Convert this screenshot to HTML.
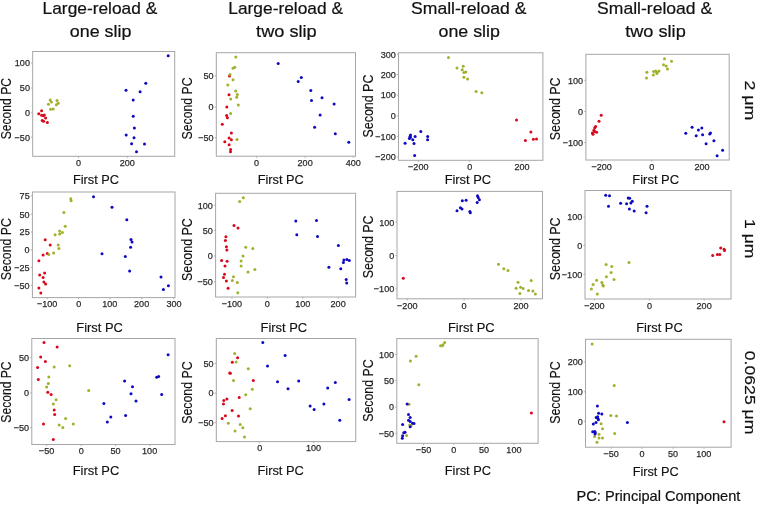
<!DOCTYPE html>
<html><head><meta charset="utf-8"><title>PCA scatter plots</title>
<style>html,body{margin:0;padding:0;background:#fff;}body{width:758px;height:505px;overflow:hidden;font-family:"Liberation Sans",sans-serif;}svg{display:block;}</style>
</head><body>
<svg width="758" height="505" viewBox="0 0 758 505" font-family="Liberation Sans, sans-serif" style="filter:blur(0.3px)">
<rect x="32.7" y="51.5" width="142" height="104.8" fill="none" stroke="#a6a6a6" stroke-width="1.0"/>
<text x="14.83" y="66.25" font-size="9.6" fill="#2a2a2a" stroke="#2a2a2a" stroke-width="0.25" textLength="15.12" lengthAdjust="spacingAndGlyphs">100</text>
<text x="19.87" y="91.35" font-size="9.6" fill="#2a2a2a" stroke="#2a2a2a" stroke-width="0.25" textLength="10.08" lengthAdjust="spacingAndGlyphs">50</text>
<text x="24.91" y="116.05" font-size="9.6" fill="#2a2a2a" stroke="#2a2a2a" stroke-width="0.25" textLength="5.04" lengthAdjust="spacingAndGlyphs">0</text>
<text x="14.58" y="140.55" font-size="9.6" fill="#2a2a2a" stroke="#2a2a2a" stroke-width="0.25" textLength="15.37" lengthAdjust="spacingAndGlyphs">−50</text>
<text x="75.98" y="166.25" font-size="9.6" fill="#2a2a2a" stroke="#2a2a2a" stroke-width="0.25" textLength="5.04" lengthAdjust="spacingAndGlyphs">0</text>
<text x="119.69" y="166.25" font-size="9.6" fill="#2a2a2a" stroke="#2a2a2a" stroke-width="0.25" textLength="15.12" lengthAdjust="spacingAndGlyphs">200</text>
<path d="M31.1 62.9H32.7M31.1 88H32.7M31.1 112.7H32.7M31.1 137.2H32.7M78.5 156.3V157.9M127.3 156.3V157.9" stroke="#a6a6a6" stroke-width="0.9" fill="none"/>
<text x="72.95" y="183.7" font-size="13.6" fill="#111" stroke="#111" stroke-width="0.15" textLength="46.13" lengthAdjust="spacingAndGlyphs">First PC</text>
<text transform="translate(11.1,139.25) rotate(-90)" font-size="13.9" fill="#111" stroke="#111" stroke-width="0.15" textLength="61.21" lengthAdjust="spacingAndGlyphs">Second PC</text>
<g fill="#d8081a"><circle cx="41.6" cy="110.75" r="1.5"/><circle cx="38.8" cy="113.7" r="1.5"/><circle cx="41.6" cy="115.2" r="1.5"/><circle cx="44.3" cy="114.9" r="1.5"/><circle cx="43.4" cy="115.8" r="1.5"/><circle cx="45.6" cy="117.9" r="1.5"/><circle cx="42.2" cy="120.6" r="1.5"/><circle cx="43.6" cy="121.2" r="1.5"/><circle cx="47.4" cy="122.6" r="1.5"/></g>
<g fill="#a2b02c"><circle cx="50.2" cy="100.05" r="1.5"/><circle cx="51.4" cy="102.1" r="1.5"/><circle cx="48.4" cy="104.2" r="1.5"/><circle cx="57" cy="100.6" r="1.5"/><circle cx="58.2" cy="103.3" r="1.5"/><circle cx="56.4" cy="104.8" r="1.5"/><circle cx="50.5" cy="109.3" r="1.5"/><circle cx="53.2" cy="109" r="1.5"/></g>
<g fill="#0e08c0"><circle cx="168.2" cy="55.8" r="1.5"/><circle cx="145.8" cy="83.3" r="1.5"/><circle cx="126" cy="90.2" r="1.5"/><circle cx="140.1" cy="91.8" r="1.5"/><circle cx="133.2" cy="99.9" r="1.5"/><circle cx="133.2" cy="116.3" r="1.5"/><circle cx="134.4" cy="128" r="1.5"/><circle cx="126.2" cy="135.1" r="1.5"/><circle cx="134" cy="137.8" r="1.5"/><circle cx="131.6" cy="143.8" r="1.5"/><circle cx="144.5" cy="144.1" r="1.5"/><circle cx="136.5" cy="151.8" r="1.5"/></g>
<rect x="216.3" y="52.7" width="139.2" height="103.5" fill="none" stroke="#a6a6a6" stroke-width="1.0"/>
<text x="203.47" y="79.15" font-size="9.6" fill="#2a2a2a" stroke="#2a2a2a" stroke-width="0.25" textLength="10.08" lengthAdjust="spacingAndGlyphs">50</text>
<text x="208.51" y="110.35" font-size="9.6" fill="#2a2a2a" stroke="#2a2a2a" stroke-width="0.25" textLength="5.04" lengthAdjust="spacingAndGlyphs">0</text>
<text x="198.18" y="141.15" font-size="9.6" fill="#2a2a2a" stroke="#2a2a2a" stroke-width="0.25" textLength="15.37" lengthAdjust="spacingAndGlyphs">−50</text>
<text x="254.08" y="165.95" font-size="9.6" fill="#2a2a2a" stroke="#2a2a2a" stroke-width="0.25" textLength="5.04" lengthAdjust="spacingAndGlyphs">0</text>
<text x="297.59" y="165.95" font-size="9.6" fill="#2a2a2a" stroke="#2a2a2a" stroke-width="0.25" textLength="15.12" lengthAdjust="spacingAndGlyphs">200</text>
<text x="345.71" y="165.95" font-size="9.6" fill="#2a2a2a" stroke="#2a2a2a" stroke-width="0.25" textLength="15.12" lengthAdjust="spacingAndGlyphs">400</text>
<path d="M214.7 75.8H216.3M214.7 107H216.3M214.7 137.8H216.3M256.6 156.2V157.8M305.2 156.2V157.8M353.2 156.2V157.8" stroke="#a6a6a6" stroke-width="0.9" fill="none"/>
<text x="257.65" y="184" font-size="13.6" fill="#111" stroke="#111" stroke-width="0.15" textLength="46.13" lengthAdjust="spacingAndGlyphs">First PC</text>
<text transform="translate(192,139.46) rotate(-90)" font-size="13.9" fill="#111" stroke="#111" stroke-width="0.15" textLength="62.02" lengthAdjust="spacingAndGlyphs">Second PC</text>
<g fill="#d8081a"><circle cx="229.5" cy="75.9" r="1.5"/><circle cx="229" cy="94.7" r="1.5"/><circle cx="226.8" cy="107.1" r="1.5"/><circle cx="226.6" cy="115.6" r="1.5"/><circle cx="227.4" cy="117.8" r="1.5"/><circle cx="222.3" cy="124.2" r="1.5"/><circle cx="231.4" cy="132.9" r="1.5"/><circle cx="229.1" cy="138" r="1.5"/><circle cx="231.4" cy="139.7" r="1.5"/><circle cx="224.8" cy="141.7" r="1.5"/><circle cx="229.1" cy="144.8" r="1.5"/><circle cx="230.6" cy="149.6" r="1.5"/><circle cx="230.5" cy="151.7" r="1.5"/></g>
<g fill="#a2b02c"><circle cx="235.8" cy="56.9" r="1.5"/><circle cx="233" cy="68.3" r="1.5"/><circle cx="234.7" cy="67.2" r="1.5"/><circle cx="230" cy="74.6" r="1.5"/><circle cx="233" cy="79.8" r="1.5"/><circle cx="227.8" cy="85.1" r="1.5"/><circle cx="235.7" cy="91" r="1.5"/><circle cx="237.4" cy="94.5" r="1.5"/><circle cx="236.7" cy="97.3" r="1.5"/><circle cx="230.7" cy="99" r="1.5"/><circle cx="238.3" cy="105.1" r="1.5"/><circle cx="230.6" cy="113.5" r="1.5"/><circle cx="237" cy="139.5" r="1.5"/></g>
<g fill="#0e08c0"><circle cx="278.2" cy="63.5" r="1.5"/><circle cx="301.3" cy="77.6" r="1.5"/><circle cx="298.2" cy="81.4" r="1.5"/><circle cx="310.8" cy="90.4" r="1.5"/><circle cx="311.5" cy="100.4" r="1.5"/><circle cx="322" cy="97.8" r="1.5"/><circle cx="334.1" cy="104" r="1.5"/><circle cx="320.1" cy="114.9" r="1.5"/><circle cx="314.6" cy="127.3" r="1.5"/><circle cx="335.3" cy="133.7" r="1.5"/><circle cx="348.8" cy="142.2" r="1.5"/></g>
<rect x="398.5" y="52.8" width="144.4" height="107.5" fill="none" stroke="#a6a6a6" stroke-width="1.0"/>
<text x="380.63" y="57.55" font-size="9.6" fill="#2a2a2a" stroke="#2a2a2a" stroke-width="0.25" textLength="15.12" lengthAdjust="spacingAndGlyphs">300</text>
<text x="380.63" y="77.85" font-size="9.6" fill="#2a2a2a" stroke="#2a2a2a" stroke-width="0.25" textLength="15.12" lengthAdjust="spacingAndGlyphs">200</text>
<text x="380.63" y="98.45" font-size="9.6" fill="#2a2a2a" stroke="#2a2a2a" stroke-width="0.25" textLength="15.12" lengthAdjust="spacingAndGlyphs">100</text>
<text x="390.71" y="119.25" font-size="9.6" fill="#2a2a2a" stroke="#2a2a2a" stroke-width="0.25" textLength="5.04" lengthAdjust="spacingAndGlyphs">0</text>
<text x="375.34" y="139.75" font-size="9.6" fill="#2a2a2a" stroke="#2a2a2a" stroke-width="0.25" textLength="20.41" lengthAdjust="spacingAndGlyphs">−100</text>
<text x="375.34" y="160.35" font-size="9.6" fill="#2a2a2a" stroke="#2a2a2a" stroke-width="0.25" textLength="20.41" lengthAdjust="spacingAndGlyphs">−200</text>
<text x="408.05" y="169.75" font-size="9.6" fill="#2a2a2a" stroke="#2a2a2a" stroke-width="0.25" textLength="20.41" lengthAdjust="spacingAndGlyphs">−200</text>
<text x="467.28" y="169.75" font-size="9.6" fill="#2a2a2a" stroke="#2a2a2a" stroke-width="0.25" textLength="5.04" lengthAdjust="spacingAndGlyphs">0</text>
<text x="514.39" y="169.75" font-size="9.6" fill="#2a2a2a" stroke="#2a2a2a" stroke-width="0.25" textLength="15.12" lengthAdjust="spacingAndGlyphs">200</text>
<path d="M396.9 54.2H398.5M396.9 74.5H398.5M396.9 95.1H398.5M396.9 115.9H398.5M396.9 136.4H398.5M396.9 157H398.5M418.3 160.3V161.9M469.8 160.3V161.9M522 160.3V161.9" stroke="#a6a6a6" stroke-width="0.9" fill="none"/>
<text x="444.64" y="184.4" font-size="13.6" fill="#111" stroke="#111" stroke-width="0.15" textLength="46.45" lengthAdjust="spacingAndGlyphs">First PC</text>
<text transform="translate(372.9,137.46) rotate(-90)" font-size="13.9" fill="#111" stroke="#111" stroke-width="0.15" textLength="62.84" lengthAdjust="spacingAndGlyphs">Second PC</text>
<g fill="#d8081a"><circle cx="516.5" cy="120.1" r="1.5"/><circle cx="530.9" cy="132.1" r="1.5"/><circle cx="525.4" cy="140.4" r="1.5"/><circle cx="533.4" cy="139.3" r="1.5"/><circle cx="536.5" cy="139.1" r="1.5"/></g>
<g fill="#a2b02c"><circle cx="448.5" cy="57.6" r="1.5"/><circle cx="457" cy="67.9" r="1.5"/><circle cx="463.2" cy="66.2" r="1.5"/><circle cx="462.2" cy="69.7" r="1.5"/><circle cx="463.9" cy="72.6" r="1.5"/><circle cx="465.9" cy="72.1" r="1.5"/><circle cx="463.9" cy="77.3" r="1.5"/><circle cx="467.6" cy="79.1" r="1.5"/><circle cx="476.1" cy="91.4" r="1.5"/><circle cx="481.8" cy="92.8" r="1.5"/></g>
<g fill="#0e08c0"><circle cx="420.8" cy="131.6" r="1.5"/><circle cx="410.5" cy="135" r="1.5"/><circle cx="410" cy="136.4" r="1.5"/><circle cx="409.4" cy="138.5" r="1.5"/><circle cx="410.4" cy="137.5" r="1.5"/><circle cx="415.1" cy="136.6" r="1.5"/><circle cx="412.8" cy="139.7" r="1.5"/><circle cx="427.7" cy="136.4" r="1.5"/><circle cx="427.6" cy="139.7" r="1.5"/><circle cx="405.1" cy="143.2" r="1.5"/><circle cx="414" cy="143.6" r="1.5"/><circle cx="414.6" cy="155.4" r="1.5"/></g>
<rect x="585.9" y="54.3" width="143.3" height="105.7" fill="none" stroke="#a6a6a6" stroke-width="1.0"/>
<text x="568.03" y="83.65" font-size="9.6" fill="#2a2a2a" stroke="#2a2a2a" stroke-width="0.25" textLength="15.12" lengthAdjust="spacingAndGlyphs">100</text>
<text x="578.11" y="114.85" font-size="9.6" fill="#2a2a2a" stroke="#2a2a2a" stroke-width="0.25" textLength="5.04" lengthAdjust="spacingAndGlyphs">0</text>
<text x="562.74" y="145.85" font-size="9.6" fill="#2a2a2a" stroke="#2a2a2a" stroke-width="0.25" textLength="20.41" lengthAdjust="spacingAndGlyphs">−100</text>
<text x="591.45" y="170.25" font-size="9.6" fill="#2a2a2a" stroke="#2a2a2a" stroke-width="0.25" textLength="20.41" lengthAdjust="spacingAndGlyphs">−200</text>
<text x="649.28" y="170.25" font-size="9.6" fill="#2a2a2a" stroke="#2a2a2a" stroke-width="0.25" textLength="5.04" lengthAdjust="spacingAndGlyphs">0</text>
<text x="694.39" y="170.25" font-size="9.6" fill="#2a2a2a" stroke="#2a2a2a" stroke-width="0.25" textLength="15.12" lengthAdjust="spacingAndGlyphs">200</text>
<path d="M584.3 80.3H585.9M584.3 111.5H585.9M584.3 142.5H585.9M601.7 160V161.6M651.8 160V161.6M702 160V161.6" stroke="#a6a6a6" stroke-width="0.9" fill="none"/>
<text x="632.34" y="184.1" font-size="13.6" fill="#111" stroke="#111" stroke-width="0.15" textLength="46.76" lengthAdjust="spacingAndGlyphs">First PC</text>
<text transform="translate(559.8,140.26) rotate(-90)" font-size="13.9" fill="#111" stroke="#111" stroke-width="0.15" textLength="62.84" lengthAdjust="spacingAndGlyphs">Second PC</text>
<g fill="#d8081a"><circle cx="601.2" cy="115.2" r="1.5"/><circle cx="599" cy="121.3" r="1.5"/><circle cx="595.6" cy="126.6" r="1.5"/><circle cx="594.8" cy="127.8" r="1.5"/><circle cx="593.9" cy="130.2" r="1.5"/><circle cx="596.6" cy="132.3" r="1.5"/><circle cx="592.4" cy="132.9" r="1.5"/><circle cx="593" cy="134.3" r="1.5"/><circle cx="594.5" cy="131.4" r="1.5"/></g>
<g fill="#a2b02c"><circle cx="664.5" cy="58.7" r="1.5"/><circle cx="671.5" cy="61.2" r="1.5"/><circle cx="663.5" cy="64.7" r="1.5"/><circle cx="666.1" cy="66.1" r="1.5"/><circle cx="667.5" cy="69" r="1.5"/><circle cx="646.9" cy="72.3" r="1.5"/><circle cx="646.5" cy="78.1" r="1.5"/><circle cx="653.7" cy="71.6" r="1.5"/><circle cx="655.7" cy="71" r="1.5"/><circle cx="659" cy="71" r="1.5"/><circle cx="657" cy="72.3" r="1.5"/><circle cx="653.4" cy="74.9" r="1.5"/><circle cx="656.9" cy="73.6" r="1.5"/></g>
<g fill="#0e08c0"><circle cx="685.8" cy="133.3" r="1.5"/><circle cx="692.1" cy="127.3" r="1.5"/><circle cx="698.4" cy="130.1" r="1.5"/><circle cx="701.8" cy="127.9" r="1.5"/><circle cx="696.2" cy="135.8" r="1.5"/><circle cx="702.6" cy="134.7" r="1.5"/><circle cx="709.7" cy="133.9" r="1.5"/><circle cx="710.5" cy="133.1" r="1.5"/><circle cx="713.9" cy="140.8" r="1.5"/><circle cx="706.1" cy="143.8" r="1.5"/><circle cx="722.6" cy="150.3" r="1.5"/><circle cx="717.1" cy="155.7" r="1.5"/></g>
<rect x="32.4" y="192" width="142.6" height="105.6" fill="none" stroke="#a6a6a6" stroke-width="1.0"/>
<text x="19.6" y="199.35" font-size="9.6" fill="#2a2a2a" stroke="#2a2a2a" stroke-width="0.25" textLength="10.08" lengthAdjust="spacingAndGlyphs">75</text>
<text x="19.57" y="217.55" font-size="9.6" fill="#2a2a2a" stroke="#2a2a2a" stroke-width="0.25" textLength="10.08" lengthAdjust="spacingAndGlyphs">50</text>
<text x="19.6" y="235.35" font-size="9.6" fill="#2a2a2a" stroke="#2a2a2a" stroke-width="0.25" textLength="10.08" lengthAdjust="spacingAndGlyphs">25</text>
<text x="24.61" y="253.15" font-size="9.6" fill="#2a2a2a" stroke="#2a2a2a" stroke-width="0.25" textLength="5.04" lengthAdjust="spacingAndGlyphs">0</text>
<text x="14.31" y="270.75" font-size="9.6" fill="#2a2a2a" stroke="#2a2a2a" stroke-width="0.25" textLength="15.37" lengthAdjust="spacingAndGlyphs">−25</text>
<text x="14.28" y="288.65" font-size="9.6" fill="#2a2a2a" stroke="#2a2a2a" stroke-width="0.25" textLength="15.37" lengthAdjust="spacingAndGlyphs">−50</text>
<text x="36.95" y="307.45" font-size="9.6" fill="#2a2a2a" stroke="#2a2a2a" stroke-width="0.25" textLength="20.41" lengthAdjust="spacingAndGlyphs">−100</text>
<text x="76.18" y="307.45" font-size="9.6" fill="#2a2a2a" stroke="#2a2a2a" stroke-width="0.25" textLength="5.04" lengthAdjust="spacingAndGlyphs">0</text>
<text x="102.27" y="307.45" font-size="9.6" fill="#2a2a2a" stroke="#2a2a2a" stroke-width="0.25" textLength="15.12" lengthAdjust="spacingAndGlyphs">100</text>
<text x="134.09" y="307.45" font-size="9.6" fill="#2a2a2a" stroke="#2a2a2a" stroke-width="0.25" textLength="15.12" lengthAdjust="spacingAndGlyphs">200</text>
<text x="166.44" y="307.45" font-size="9.6" fill="#2a2a2a" stroke="#2a2a2a" stroke-width="0.25" textLength="15.12" lengthAdjust="spacingAndGlyphs">300</text>
<path d="M30.8 196H32.4M30.8 214.2H32.4M30.8 232H32.4M30.8 249.8H32.4M30.8 267.4H32.4M30.8 285.3H32.4M47.2 297.6V299.2M78.7 297.6V299.2M110 297.6V299.2M141.7 297.6V299.2M174 297.6V299.2" stroke="#a6a6a6" stroke-width="0.9" fill="none"/>
<text x="76.34" y="331.9" font-size="13.6" fill="#111" stroke="#111" stroke-width="0.15" textLength="46.55" lengthAdjust="spacingAndGlyphs">First PC</text>
<text transform="translate(11.1,280.26) rotate(-90)" font-size="13.9" fill="#111" stroke="#111" stroke-width="0.15" textLength="62.02" lengthAdjust="spacingAndGlyphs">Second PC</text>
<g fill="#d8081a"><circle cx="45.2" cy="239.7" r="1.5"/><circle cx="50.2" cy="245" r="1.5"/><circle cx="47.3" cy="253.4" r="1.5"/><circle cx="43.1" cy="255.1" r="1.5"/><circle cx="38.9" cy="260.8" r="1.5"/><circle cx="44.6" cy="273" r="1.5"/><circle cx="39.7" cy="275.1" r="1.5"/><circle cx="43.1" cy="277.6" r="1.5"/><circle cx="43.9" cy="282" r="1.5"/><circle cx="45.6" cy="284.1" r="1.5"/><circle cx="38.9" cy="288.1" r="1.5"/><circle cx="40.8" cy="292.9" r="1.5"/></g>
<g fill="#a2b02c"><circle cx="70.8" cy="198.7" r="1.5"/><circle cx="71.1" cy="200.8" r="1.5"/><circle cx="63.9" cy="212.6" r="1.5"/><circle cx="65.2" cy="226.3" r="1.5"/><circle cx="59.7" cy="230.9" r="1.5"/><circle cx="62.4" cy="232.6" r="1.5"/><circle cx="59.7" cy="234.1" r="1.5"/><circle cx="55.1" cy="234.7" r="1.5"/><circle cx="58.2" cy="245" r="1.5"/><circle cx="58.9" cy="248.4" r="1.5"/><circle cx="53.6" cy="253" r="1.5"/><circle cx="48.8" cy="254.4" r="1.5"/></g>
<g fill="#0e08c0"><circle cx="93.5" cy="196.7" r="1.5"/><circle cx="112" cy="207.3" r="1.5"/><circle cx="126.8" cy="219.7" r="1.5"/><circle cx="131" cy="239.4" r="1.5"/><circle cx="132" cy="242.1" r="1.5"/><circle cx="130.6" cy="247.3" r="1.5"/><circle cx="102" cy="253.7" r="1.5"/><circle cx="125.3" cy="256.6" r="1.5"/><circle cx="129.6" cy="271.1" r="1.5"/><circle cx="161" cy="277" r="1.5"/><circle cx="168.4" cy="285.8" r="1.5"/><circle cx="163.4" cy="289.6" r="1.5"/></g>
<rect x="215.6" y="193.3" width="140" height="103.7" fill="none" stroke="#a6a6a6" stroke-width="1.0"/>
<text x="197.73" y="208.65" font-size="9.6" fill="#2a2a2a" stroke="#2a2a2a" stroke-width="0.25" textLength="15.12" lengthAdjust="spacingAndGlyphs">100</text>
<text x="202.77" y="233.95" font-size="9.6" fill="#2a2a2a" stroke="#2a2a2a" stroke-width="0.25" textLength="10.08" lengthAdjust="spacingAndGlyphs">50</text>
<text x="207.81" y="259.25" font-size="9.6" fill="#2a2a2a" stroke="#2a2a2a" stroke-width="0.25" textLength="5.04" lengthAdjust="spacingAndGlyphs">0</text>
<text x="197.48" y="285.05" font-size="9.6" fill="#2a2a2a" stroke="#2a2a2a" stroke-width="0.25" textLength="15.37" lengthAdjust="spacingAndGlyphs">−50</text>
<text x="221.75" y="307.05" font-size="9.6" fill="#2a2a2a" stroke="#2a2a2a" stroke-width="0.25" textLength="20.41" lengthAdjust="spacingAndGlyphs">−100</text>
<text x="264.78" y="307.05" font-size="9.6" fill="#2a2a2a" stroke="#2a2a2a" stroke-width="0.25" textLength="5.04" lengthAdjust="spacingAndGlyphs">0</text>
<text x="295.17" y="307.05" font-size="9.6" fill="#2a2a2a" stroke="#2a2a2a" stroke-width="0.25" textLength="15.12" lengthAdjust="spacingAndGlyphs">100</text>
<text x="330.59" y="307.05" font-size="9.6" fill="#2a2a2a" stroke="#2a2a2a" stroke-width="0.25" textLength="15.12" lengthAdjust="spacingAndGlyphs">200</text>
<path d="M214 205.3H215.6M214 230.6H215.6M214 255.9H215.6M214 281.7H215.6M232 297V298.6M267.3 297V298.6M302.9 297V298.6M338.2 297V298.6" stroke="#a6a6a6" stroke-width="0.9" fill="none"/>
<text x="260.54" y="331.9" font-size="13.6" fill="#111" stroke="#111" stroke-width="0.15" textLength="46.55" lengthAdjust="spacingAndGlyphs">First PC</text>
<text transform="translate(192,281.06) rotate(-90)" font-size="13.9" fill="#111" stroke="#111" stroke-width="0.15" textLength="62.84" lengthAdjust="spacingAndGlyphs">Second PC</text>
<g fill="#d8081a"><circle cx="234" cy="225.4" r="1.5"/><circle cx="238" cy="228" r="1.5"/><circle cx="225.9" cy="236.8" r="1.5"/><circle cx="225.4" cy="240.6" r="1.5"/><circle cx="226.4" cy="246.8" r="1.5"/><circle cx="226.9" cy="249.9" r="1.5"/><circle cx="221.6" cy="260.4" r="1.5"/><circle cx="227.1" cy="261.3" r="1.5"/><circle cx="225" cy="266.1" r="1.5"/><circle cx="224.5" cy="274.2" r="1.5"/><circle cx="223.5" cy="277.5" r="1.5"/><circle cx="226.4" cy="281.1" r="1.5"/><circle cx="228.1" cy="288.2" r="1.5"/></g>
<g fill="#a2b02c"><circle cx="243.3" cy="197.8" r="1.5"/><circle cx="239.7" cy="201.4" r="1.5"/><circle cx="245.7" cy="247.3" r="1.5"/><circle cx="252.8" cy="248.5" r="1.5"/><circle cx="243" cy="256.1" r="1.5"/><circle cx="241.1" cy="261.1" r="1.5"/><circle cx="241.1" cy="266.1" r="1.5"/><circle cx="254.9" cy="269.4" r="1.5"/><circle cx="248" cy="272" r="1.5"/><circle cx="233.5" cy="276.8" r="1.5"/><circle cx="232.3" cy="280.6" r="1.5"/><circle cx="237.3" cy="282.5" r="1.5"/><circle cx="237.8" cy="292.7" r="1.5"/></g>
<g fill="#0e08c0"><circle cx="295.8" cy="220.9" r="1.5"/><circle cx="316.5" cy="220.4" r="1.5"/><circle cx="296.8" cy="234.7" r="1.5"/><circle cx="317.5" cy="236.6" r="1.5"/><circle cx="338.4" cy="245.6" r="1.5"/><circle cx="343.9" cy="260.1" r="1.5"/><circle cx="343.4" cy="262.5" r="1.5"/><circle cx="346.9" cy="259.4" r="1.5"/><circle cx="349.3" cy="260.6" r="1.5"/><circle cx="328.9" cy="267.3" r="1.5"/><circle cx="340.8" cy="268.7" r="1.5"/><circle cx="346.2" cy="279.6" r="1.5"/><circle cx="346.7" cy="283" r="1.5"/></g>
<rect x="397" y="191.4" width="145.5" height="107.4" fill="none" stroke="#a6a6a6" stroke-width="1.0"/>
<text x="379.13" y="225.55" font-size="9.6" fill="#2a2a2a" stroke="#2a2a2a" stroke-width="0.25" textLength="15.12" lengthAdjust="spacingAndGlyphs">100</text>
<text x="389.21" y="259.05" font-size="9.6" fill="#2a2a2a" stroke="#2a2a2a" stroke-width="0.25" textLength="5.04" lengthAdjust="spacingAndGlyphs">0</text>
<text x="373.84" y="292.35" font-size="9.6" fill="#2a2a2a" stroke="#2a2a2a" stroke-width="0.25" textLength="20.41" lengthAdjust="spacingAndGlyphs">−100</text>
<text x="397.05" y="308.55" font-size="9.6" fill="#2a2a2a" stroke="#2a2a2a" stroke-width="0.25" textLength="20.41" lengthAdjust="spacingAndGlyphs">−200</text>
<text x="461.58" y="308.55" font-size="9.6" fill="#2a2a2a" stroke="#2a2a2a" stroke-width="0.25" textLength="5.04" lengthAdjust="spacingAndGlyphs">0</text>
<text x="513.39" y="308.55" font-size="9.6" fill="#2a2a2a" stroke="#2a2a2a" stroke-width="0.25" textLength="15.12" lengthAdjust="spacingAndGlyphs">200</text>
<path d="M395.4 222.2H397M395.4 255.7H397M395.4 289H397M407.3 298.8V300.4M464.1 298.8V300.4M521 298.8V300.4" stroke="#a6a6a6" stroke-width="0.9" fill="none"/>
<text x="447.94" y="331.9" font-size="13.6" fill="#111" stroke="#111" stroke-width="0.15" textLength="46.65" lengthAdjust="spacingAndGlyphs">First PC</text>
<text transform="translate(372.9,278.26) rotate(-90)" font-size="13.9" fill="#111" stroke="#111" stroke-width="0.15" textLength="62.84" lengthAdjust="spacingAndGlyphs">Second PC</text>
<g fill="#d8081a"><circle cx="403.3" cy="278.2" r="1.5"/></g>
<g fill="#a2b02c"><circle cx="498.5" cy="264.3" r="1.5"/><circle cx="503.8" cy="268.7" r="1.5"/><circle cx="508" cy="270.6" r="1.5"/><circle cx="518" cy="282.3" r="1.5"/><circle cx="531.2" cy="280.4" r="1.5"/><circle cx="516.1" cy="288.3" r="1.5"/><circle cx="520.6" cy="287.2" r="1.5"/><circle cx="523.1" cy="288.5" r="1.5"/><circle cx="528.5" cy="290.4" r="1.5"/><circle cx="532.9" cy="291" r="1.5"/><circle cx="535.4" cy="294" r="1.5"/><circle cx="519.9" cy="293.6" r="1.5"/></g>
<g fill="#0e08c0"><circle cx="477.5" cy="195.7" r="1.5"/><circle cx="478.2" cy="197.4" r="1.5"/><circle cx="479.4" cy="199.7" r="1.5"/><circle cx="477.2" cy="202.6" r="1.5"/><circle cx="462.3" cy="200.7" r="1.5"/><circle cx="466.1" cy="200.2" r="1.5"/><circle cx="460.4" cy="207.8" r="1.5"/><circle cx="462" cy="209" r="1.5"/><circle cx="457" cy="210.7" r="1.5"/><circle cx="469.9" cy="211.6" r="1.5"/><circle cx="470.3" cy="212.8" r="1.5"/></g>
<rect x="585" y="190.5" width="146" height="108.5" fill="none" stroke="#a6a6a6" stroke-width="1.0"/>
<text x="567.13" y="220.35" font-size="9.6" fill="#2a2a2a" stroke="#2a2a2a" stroke-width="0.25" textLength="15.12" lengthAdjust="spacingAndGlyphs">100</text>
<text x="577.21" y="248.75" font-size="9.6" fill="#2a2a2a" stroke="#2a2a2a" stroke-width="0.25" textLength="5.04" lengthAdjust="spacingAndGlyphs">0</text>
<text x="561.84" y="277.65" font-size="9.6" fill="#2a2a2a" stroke="#2a2a2a" stroke-width="0.25" textLength="20.41" lengthAdjust="spacingAndGlyphs">−100</text>
<text x="584.15" y="308.55" font-size="9.6" fill="#2a2a2a" stroke="#2a2a2a" stroke-width="0.25" textLength="20.41" lengthAdjust="spacingAndGlyphs">−200</text>
<text x="646.88" y="308.55" font-size="9.6" fill="#2a2a2a" stroke="#2a2a2a" stroke-width="0.25" textLength="5.04" lengthAdjust="spacingAndGlyphs">0</text>
<text x="696.59" y="308.55" font-size="9.6" fill="#2a2a2a" stroke="#2a2a2a" stroke-width="0.25" textLength="15.12" lengthAdjust="spacingAndGlyphs">200</text>
<path d="M583.4 217H585M583.4 245.4H585M583.4 274.3H585M594.4 299V300.6M649.4 299V300.6M704.2 299V300.6" stroke="#a6a6a6" stroke-width="0.9" fill="none"/>
<text x="636.24" y="331.9" font-size="13.6" fill="#111" stroke="#111" stroke-width="0.15" textLength="46.45" lengthAdjust="spacingAndGlyphs">First PC</text>
<text transform="translate(559.8,280.26) rotate(-90)" font-size="13.9" fill="#111" stroke="#111" stroke-width="0.15" textLength="62.84" lengthAdjust="spacingAndGlyphs">Second PC</text>
<g fill="#d8081a"><circle cx="720.7" cy="248" r="1.5"/><circle cx="724.1" cy="249.2" r="1.5"/><circle cx="724.5" cy="250.4" r="1.5"/><circle cx="717.4" cy="254.4" r="1.5"/><circle cx="719.8" cy="254.4" r="1.5"/><circle cx="712.7" cy="255.6" r="1.5"/></g>
<g fill="#a2b02c"><circle cx="629" cy="262.5" r="1.5"/><circle cx="606.1" cy="264.6" r="1.5"/><circle cx="611.8" cy="266.5" r="1.5"/><circle cx="611.1" cy="272.5" r="1.5"/><circle cx="606.4" cy="276.8" r="1.5"/><circle cx="614" cy="279.6" r="1.5"/><circle cx="596.6" cy="280.3" r="1.5"/><circle cx="593.1" cy="284.4" r="1.5"/><circle cx="601.9" cy="282.5" r="1.5"/><circle cx="602.8" cy="284.9" r="1.5"/><circle cx="603.3" cy="286" r="1.5"/><circle cx="591.4" cy="289.1" r="1.5"/><circle cx="597.3" cy="293.9" r="1.5"/></g>
<g fill="#0e08c0"><circle cx="605.7" cy="195.2" r="1.5"/><circle cx="609.5" cy="195.7" r="1.5"/><circle cx="608.5" cy="206.2" r="1.5"/><circle cx="620.6" cy="203.3" r="1.5"/><circle cx="628.2" cy="198.1" r="1.5"/><circle cx="629.7" cy="198.3" r="1.5"/><circle cx="626.6" cy="203.8" r="1.5"/><circle cx="632.3" cy="201.2" r="1.5"/><circle cx="630.9" cy="203.1" r="1.5"/><circle cx="629.4" cy="209" r="1.5"/><circle cx="634.2" cy="210.9" r="1.5"/><circle cx="647" cy="206.2" r="1.5"/><circle cx="646.1" cy="212.8" r="1.5"/></g>
<rect x="31.8" y="338.5" width="143.2" height="106" fill="none" stroke="#a6a6a6" stroke-width="1.0"/>
<text x="18.97" y="360.95" font-size="9.6" fill="#2a2a2a" stroke="#2a2a2a" stroke-width="0.25" textLength="10.08" lengthAdjust="spacingAndGlyphs">50</text>
<text x="24.01" y="396.15" font-size="9.6" fill="#2a2a2a" stroke="#2a2a2a" stroke-width="0.25" textLength="5.04" lengthAdjust="spacingAndGlyphs">0</text>
<text x="13.68" y="430.95" font-size="9.6" fill="#2a2a2a" stroke="#2a2a2a" stroke-width="0.25" textLength="15.37" lengthAdjust="spacingAndGlyphs">−50</text>
<text x="38.87" y="454.15" font-size="9.6" fill="#2a2a2a" stroke="#2a2a2a" stroke-width="0.25" textLength="15.37" lengthAdjust="spacingAndGlyphs">−50</text>
<text x="78.68" y="454.15" font-size="9.6" fill="#2a2a2a" stroke="#2a2a2a" stroke-width="0.25" textLength="5.04" lengthAdjust="spacingAndGlyphs">0</text>
<text x="110.46" y="454.15" font-size="9.6" fill="#2a2a2a" stroke="#2a2a2a" stroke-width="0.25" textLength="10.08" lengthAdjust="spacingAndGlyphs">50</text>
<text x="142.07" y="454.15" font-size="9.6" fill="#2a2a2a" stroke="#2a2a2a" stroke-width="0.25" textLength="15.12" lengthAdjust="spacingAndGlyphs">100</text>
<path d="M30.2 357.6H31.8M30.2 392.8H31.8M30.2 427.6H31.8M46.6 444.5V446.1M81.2 444.5V446.1M115.5 444.5V446.1M149.8 444.5V446.1" stroke="#a6a6a6" stroke-width="0.9" fill="none"/>
<text x="72.74" y="474.8" font-size="13.6" fill="#111" stroke="#111" stroke-width="0.15" textLength="46.55" lengthAdjust="spacingAndGlyphs">First PC</text>
<text transform="translate(11.1,422.65) rotate(-90)" font-size="13.9" fill="#111" stroke="#111" stroke-width="0.15" textLength="61.21" lengthAdjust="spacingAndGlyphs">Second PC</text>
<g fill="#d8081a"><circle cx="44" cy="342.4" r="1.5"/><circle cx="57.1" cy="347.1" r="1.5"/><circle cx="40.7" cy="356.9" r="1.5"/><circle cx="45.4" cy="361.4" r="1.5"/><circle cx="37.6" cy="367.6" r="1.5"/><circle cx="38.3" cy="379.5" r="1.5"/><circle cx="47.8" cy="392.3" r="1.5"/><circle cx="51.1" cy="394.4" r="1.5"/><circle cx="54.2" cy="410.1" r="1.5"/><circle cx="54.7" cy="414.4" r="1.5"/><circle cx="43.5" cy="423.9" r="1.5"/><circle cx="53.3" cy="439.6" r="1.5"/></g>
<g fill="#a2b02c"><circle cx="54.2" cy="367.1" r="1.5"/><circle cx="69.7" cy="365.7" r="1.5"/><circle cx="48.8" cy="377.1" r="1.5"/><circle cx="48.3" cy="383.5" r="1.5"/><circle cx="46.6" cy="387.1" r="1.5"/><circle cx="88.7" cy="390.6" r="1.5"/><circle cx="56.1" cy="399.7" r="1.5"/><circle cx="53.3" cy="403.9" r="1.5"/><circle cx="65.6" cy="418.4" r="1.5"/><circle cx="59.2" cy="425.1" r="1.5"/><circle cx="62.8" cy="427.5" r="1.5"/><circle cx="73.3" cy="423.9" r="1.5"/></g>
<g fill="#0e08c0"><circle cx="168.1" cy="354.7" r="1.5"/><circle cx="124.6" cy="380.9" r="1.5"/><circle cx="156.7" cy="377.3" r="1.5"/><circle cx="158.6" cy="376.4" r="1.5"/><circle cx="132.5" cy="386.8" r="1.5"/><circle cx="131" cy="393.7" r="1.5"/><circle cx="161.7" cy="394.4" r="1.5"/><circle cx="136" cy="401.1" r="1.5"/><circle cx="103.9" cy="403.5" r="1.5"/><circle cx="125.6" cy="415.4" r="1.5"/><circle cx="110.8" cy="417" r="1.5"/><circle cx="107.3" cy="422" r="1.5"/></g>
<rect x="216.3" y="338.5" width="139.4" height="103.1" fill="none" stroke="#a6a6a6" stroke-width="1.0"/>
<text x="203.47" y="366.65" font-size="9.6" fill="#2a2a2a" stroke="#2a2a2a" stroke-width="0.25" textLength="10.08" lengthAdjust="spacingAndGlyphs">50</text>
<text x="208.51" y="396.45" font-size="9.6" fill="#2a2a2a" stroke="#2a2a2a" stroke-width="0.25" textLength="5.04" lengthAdjust="spacingAndGlyphs">0</text>
<text x="198.18" y="425.95" font-size="9.6" fill="#2a2a2a" stroke="#2a2a2a" stroke-width="0.25" textLength="15.37" lengthAdjust="spacingAndGlyphs">−50</text>
<text x="257.18" y="451.45" font-size="9.6" fill="#2a2a2a" stroke="#2a2a2a" stroke-width="0.25" textLength="5.04" lengthAdjust="spacingAndGlyphs">0</text>
<text x="305.97" y="451.45" font-size="9.6" fill="#2a2a2a" stroke="#2a2a2a" stroke-width="0.25" textLength="15.12" lengthAdjust="spacingAndGlyphs">100</text>
<path d="M214.7 363.3H216.3M214.7 393.1H216.3M214.7 422.6H216.3M259.7 441.6V443.2M313.7 441.6V443.2" stroke="#a6a6a6" stroke-width="0.9" fill="none"/>
<text x="257.44" y="474.8" font-size="13.6" fill="#111" stroke="#111" stroke-width="0.15" textLength="46.45" lengthAdjust="spacingAndGlyphs">First PC</text>
<text transform="translate(192,423.86) rotate(-90)" font-size="13.9" fill="#111" stroke="#111" stroke-width="0.15" textLength="62.53" lengthAdjust="spacingAndGlyphs">Second PC</text>
<g fill="#d8081a"><circle cx="237.6" cy="357.8" r="1.5"/><circle cx="232.3" cy="362.3" r="1.5"/><circle cx="229.7" cy="373" r="1.5"/><circle cx="230.4" cy="373.3" r="1.5"/><circle cx="253.3" cy="380.6" r="1.5"/><circle cx="239.2" cy="397.5" r="1.5"/><circle cx="226.9" cy="399" r="1.5"/><circle cx="223.8" cy="400.4" r="1.5"/><circle cx="223.5" cy="403.9" r="1.5"/><circle cx="232.1" cy="410.6" r="1.5"/><circle cx="238.5" cy="416.1" r="1.5"/><circle cx="225.4" cy="415.8" r="1.5"/><circle cx="222.1" cy="418.4" r="1.5"/></g>
<g fill="#a2b02c"><circle cx="234.7" cy="353.5" r="1.5"/><circle cx="236.1" cy="362.1" r="1.5"/><circle cx="248.3" cy="368.8" r="1.5"/><circle cx="233.5" cy="380.4" r="1.5"/><circle cx="252.3" cy="389.2" r="1.5"/><circle cx="245.7" cy="394.7" r="1.5"/><circle cx="250.2" cy="408.7" r="1.5"/><circle cx="228.3" cy="423.2" r="1.5"/><circle cx="240.2" cy="424.4" r="1.5"/><circle cx="242.8" cy="427.7" r="1.5"/><circle cx="235" cy="431" r="1.5"/><circle cx="244.5" cy="437" r="1.5"/></g>
<g fill="#0e08c0"><circle cx="262.8" cy="342.6" r="1.5"/><circle cx="285.1" cy="355.4" r="1.5"/><circle cx="267.5" cy="366.1" r="1.5"/><circle cx="277.5" cy="381.8" r="1.5"/><circle cx="298.7" cy="380.9" r="1.5"/><circle cx="288" cy="388.7" r="1.5"/><circle cx="327.7" cy="388" r="1.5"/><circle cx="335.3" cy="382.5" r="1.5"/><circle cx="349.1" cy="399.4" r="1.5"/><circle cx="310.1" cy="406.1" r="1.5"/><circle cx="314.1" cy="409.6" r="1.5"/><circle cx="323.9" cy="403.9" r="1.5"/><circle cx="339.8" cy="420.3" r="1.5"/></g>
<rect x="396.8" y="338.6" width="141.3" height="104.7" fill="none" stroke="#a6a6a6" stroke-width="1.0"/>
<text x="378.93" y="357.75" font-size="9.6" fill="#2a2a2a" stroke="#2a2a2a" stroke-width="0.25" textLength="15.12" lengthAdjust="spacingAndGlyphs">100</text>
<text x="383.97" y="384.05" font-size="9.6" fill="#2a2a2a" stroke="#2a2a2a" stroke-width="0.25" textLength="10.08" lengthAdjust="spacingAndGlyphs">50</text>
<text x="389.01" y="410.45" font-size="9.6" fill="#2a2a2a" stroke="#2a2a2a" stroke-width="0.25" textLength="5.04" lengthAdjust="spacingAndGlyphs">0</text>
<text x="378.68" y="436.75" font-size="9.6" fill="#2a2a2a" stroke="#2a2a2a" stroke-width="0.25" textLength="15.37" lengthAdjust="spacingAndGlyphs">−50</text>
<text x="415.87" y="453.15" font-size="9.6" fill="#2a2a2a" stroke="#2a2a2a" stroke-width="0.25" textLength="15.37" lengthAdjust="spacingAndGlyphs">−50</text>
<text x="451.28" y="453.15" font-size="9.6" fill="#2a2a2a" stroke="#2a2a2a" stroke-width="0.25" textLength="5.04" lengthAdjust="spacingAndGlyphs">0</text>
<text x="478.96" y="453.15" font-size="9.6" fill="#2a2a2a" stroke="#2a2a2a" stroke-width="0.25" textLength="10.08" lengthAdjust="spacingAndGlyphs">50</text>
<text x="506.37" y="453.15" font-size="9.6" fill="#2a2a2a" stroke="#2a2a2a" stroke-width="0.25" textLength="15.12" lengthAdjust="spacingAndGlyphs">100</text>
<path d="M395.2 354.4H396.8M395.2 380.7H396.8M395.2 407.1H396.8M395.2 433.4H396.8M423.6 443.3V444.9M453.8 443.3V444.9M484 443.3V444.9M514.1 443.3V444.9" stroke="#a6a6a6" stroke-width="0.9" fill="none"/>
<text x="444.75" y="475.2" font-size="13.6" fill="#111" stroke="#111" stroke-width="0.15" textLength="46.24" lengthAdjust="spacingAndGlyphs">First PC</text>
<text transform="translate(372.9,421.86) rotate(-90)" font-size="13.9" fill="#111" stroke="#111" stroke-width="0.15" textLength="62.53" lengthAdjust="spacingAndGlyphs">Second PC</text>
<g fill="#d8081a"><circle cx="531.4" cy="413.1" r="1.5"/></g>
<g fill="#a2b02c"><circle cx="444.7" cy="342.4" r="1.5"/><circle cx="443" cy="344.7" r="1.5"/><circle cx="440.6" cy="345.7" r="1.5"/><circle cx="442.3" cy="345.7" r="1.5"/><circle cx="416.1" cy="356.2" r="1.5"/><circle cx="410.4" cy="360.9" r="1.5"/><circle cx="418.8" cy="384.7" r="1.5"/><circle cx="409" cy="404.2" r="1.5"/><circle cx="409.7" cy="425.1" r="1.5"/><circle cx="411" cy="425.5" r="1.5"/><circle cx="406.6" cy="435.6" r="1.5"/></g>
<g fill="#0e08c0"><circle cx="407.1" cy="403.9" r="1.5"/><circle cx="408.5" cy="414.4" r="1.5"/><circle cx="410.2" cy="417.5" r="1.5"/><circle cx="408.5" cy="420.3" r="1.5"/><circle cx="410.2" cy="421.5" r="1.5"/><circle cx="412.6" cy="423.2" r="1.5"/><circle cx="414" cy="423.4" r="1.5"/><circle cx="402.6" cy="424.6" r="1.5"/><circle cx="410.2" cy="426.8" r="1.5"/><circle cx="405" cy="432.2" r="1.5"/><circle cx="403.8" cy="432.7" r="1.5"/><circle cx="402.6" cy="435.8" r="1.5"/><circle cx="402.3" cy="438.2" r="1.5"/></g>
<rect x="585.5" y="339.3" width="145.6" height="107.9" fill="none" stroke="#a6a6a6" stroke-width="1.0"/>
<text x="567.63" y="365.45" font-size="9.6" fill="#2a2a2a" stroke="#2a2a2a" stroke-width="0.25" textLength="15.12" lengthAdjust="spacingAndGlyphs">200</text>
<text x="567.63" y="395.15" font-size="9.6" fill="#2a2a2a" stroke="#2a2a2a" stroke-width="0.25" textLength="15.12" lengthAdjust="spacingAndGlyphs">100</text>
<text x="577.71" y="424.65" font-size="9.6" fill="#2a2a2a" stroke="#2a2a2a" stroke-width="0.25" textLength="5.04" lengthAdjust="spacingAndGlyphs">0</text>
<text x="603.47" y="457.45" font-size="9.6" fill="#2a2a2a" stroke="#2a2a2a" stroke-width="0.25" textLength="15.37" lengthAdjust="spacingAndGlyphs">−50</text>
<text x="639.48" y="457.45" font-size="9.6" fill="#2a2a2a" stroke="#2a2a2a" stroke-width="0.25" textLength="5.04" lengthAdjust="spacingAndGlyphs">0</text>
<text x="667.96" y="457.45" font-size="9.6" fill="#2a2a2a" stroke="#2a2a2a" stroke-width="0.25" textLength="10.08" lengthAdjust="spacingAndGlyphs">50</text>
<text x="696.27" y="457.45" font-size="9.6" fill="#2a2a2a" stroke="#2a2a2a" stroke-width="0.25" textLength="15.12" lengthAdjust="spacingAndGlyphs">100</text>
<path d="M583.9 362.1H585.5M583.9 391.8H585.5M583.9 421.3H585.5M611.2 447.2V448.8M642 447.2V448.8M673 447.2V448.8M704 447.2V448.8" stroke="#a6a6a6" stroke-width="0.9" fill="none"/>
<text x="632.66" y="475.5" font-size="13.6" fill="#111" stroke="#111" stroke-width="0.15" textLength="45.93" lengthAdjust="spacingAndGlyphs">First PC</text>
<text transform="translate(559.8,423.86) rotate(-90)" font-size="13.9" fill="#111" stroke="#111" stroke-width="0.15" textLength="62.53" lengthAdjust="spacingAndGlyphs">Second PC</text>
<g fill="#d8081a"><circle cx="724" cy="421.7" r="1.5"/></g>
<g fill="#a2b02c"><circle cx="592.1" cy="344" r="1.5"/><circle cx="614.2" cy="385.6" r="1.5"/><circle cx="610.8" cy="415.6" r="1.5"/><circle cx="616.5" cy="416" r="1.5"/><circle cx="601.1" cy="423.7" r="1.5"/><circle cx="602.5" cy="428.7" r="1.5"/><circle cx="614.7" cy="433.5" r="1.5"/><circle cx="599" cy="434.2" r="1.5"/><circle cx="594.6" cy="436.5" r="1.5"/><circle cx="599" cy="438.1" r="1.5"/><circle cx="602.5" cy="438.1" r="1.5"/><circle cx="597" cy="442.3" r="1.5"/></g>
<g fill="#0e08c0"><circle cx="597.4" cy="406.1" r="1.5"/><circle cx="598.6" cy="413.3" r="1.5"/><circle cx="601.8" cy="414.1" r="1.5"/><circle cx="596.2" cy="417.4" r="1.5"/><circle cx="597.6" cy="416.7" r="1.5"/><circle cx="597.9" cy="418.6" r="1.5"/><circle cx="598.4" cy="419.8" r="1.5"/><circle cx="596" cy="422.6" r="1.5"/><circle cx="593.3" cy="424" r="1.5"/><circle cx="627.4" cy="422.5" r="1.5"/><circle cx="592.7" cy="431.8" r="1.5"/><circle cx="594.8" cy="431.4" r="1.5"/><circle cx="595.3" cy="432.7" r="1.5"/><circle cx="595" cy="434" r="1.5"/></g>
<text x="42.58" y="13.8" font-size="16.1" fill="#111" stroke="#111" stroke-width="0.2" textLength="114.69" lengthAdjust="spacingAndGlyphs">Large-reload &amp;</text>
<text x="69.85" y="36.7" font-size="16.1" fill="#111" stroke="#111" stroke-width="0.2" textLength="61.6" lengthAdjust="spacingAndGlyphs">one slip</text>
<text x="228.28" y="13.8" font-size="16.1" fill="#111" stroke="#111" stroke-width="0.2" textLength="114.79" lengthAdjust="spacingAndGlyphs">Large-reload &amp;</text>
<text x="256.13" y="36.7" font-size="16.1" fill="#111" stroke="#111" stroke-width="0.2" textLength="60.54" lengthAdjust="spacingAndGlyphs">two slip</text>
<text x="411" y="13.8" font-size="16.1" fill="#111" stroke="#111" stroke-width="0.2" textLength="115.37" lengthAdjust="spacingAndGlyphs">Small-reload &amp;</text>
<text x="438.55" y="36.7" font-size="16.1" fill="#111" stroke="#111" stroke-width="0.2" textLength="61.4" lengthAdjust="spacingAndGlyphs">one slip</text>
<text x="597.1" y="13.8" font-size="16.1" fill="#111" stroke="#111" stroke-width="0.2" textLength="115.07" lengthAdjust="spacingAndGlyphs">Small-reload &amp;</text>
<text x="625.23" y="36.7" font-size="16.1" fill="#111" stroke="#111" stroke-width="0.2" textLength="60.54" lengthAdjust="spacingAndGlyphs">two slip</text>
<text transform="translate(744.8,80.4) rotate(90)" font-size="15.3" fill="#111" stroke="#111" stroke-width="0.2" textLength="39.97" lengthAdjust="spacingAndGlyphs">2 μm</text>
<text transform="translate(744.8,219.07) rotate(90)" font-size="15.3" fill="#111" stroke="#111" stroke-width="0.2" textLength="39.29" lengthAdjust="spacingAndGlyphs">1 μm</text>
<text transform="translate(744.8,350.81) rotate(90)" font-size="15.3" fill="#111" stroke="#111" stroke-width="0.2" textLength="83.65" lengthAdjust="spacingAndGlyphs">0.0625 μm</text>
<text x="576.6" y="501.4" font-size="14.5" fill="#111" stroke="#111" stroke-width="0.2" textLength="163.8" lengthAdjust="spacingAndGlyphs">PC: Principal Component</text>
</svg>
</body></html>
